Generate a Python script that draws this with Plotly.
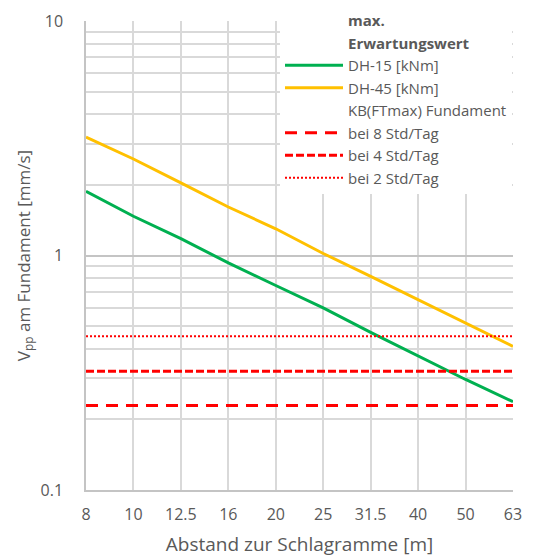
import plotly.graph_objects as go

abstand = ["8", "10", "12.5", "16", "20", "25", "31.5", "40", "50", "63"]
dh15 = [1.88, 1.47, 1.18, 0.93, 0.745, 0.598, 0.47, 0.372, 0.296, 0.238]
dh45 = [3.2, 2.58, 2.04, 1.61, 1.3, 1.02, 0.815, 0.648, 0.515, 0.41]
kb_8std = 0.229
kb_4std = 0.321
kb_2std = 0.453

FONT = "Open Sans"
GREY = "#595959"
GRID = "#d9d9d9"
MAJOR = "#c4c4c4"

W, H = 528, 549  # page body adds an 8px offset
ML, MR, MT, MB = 78, 23, 13, 67
PLOT_H = H - MT - MB

fig = go.Figure()

blank = dict(color="rgba(0,0,0,0)")
fig.add_trace(go.Scatter(x=[None], y=[None], mode="lines", line=blank,
                         name="<b>max.</b>", hoverinfo="skip"))
fig.add_trace(go.Scatter(x=[None], y=[None], mode="lines", line=blank,
                         name="<b>Erwartungswert</b>", hoverinfo="skip"))
fig.add_trace(go.Scatter(x=abstand, y=dh15, mode="lines", name="DH-15 [kNm]",
                         line=dict(color="#00b050", width=3)))
fig.add_trace(go.Scatter(x=abstand, y=dh45, mode="lines", name="DH-45 [kNm]",
                         line=dict(color="#ffc000", width=3)))
fig.add_trace(go.Scatter(x=[None], y=[None], mode="lines", line=blank,
                         name="KB(FTmax) Fundament", hoverinfo="skip"))
fig.add_trace(go.Scatter(x=abstand, y=[kb_8std] * len(abstand), mode="lines", name="bei 8 Std/Tag",
                         line=dict(color="#ff0000", width=3, dash="12px,8px")))
fig.add_trace(go.Scatter(x=abstand, y=[kb_4std] * len(abstand), mode="lines", name="bei 4 Std/Tag",
                         line=dict(color="#ff0000", width=3, dash="8px,3px")))
fig.add_trace(go.Scatter(x=abstand, y=[kb_2std] * len(abstand), mode="lines", name="bei 2 Std/Tag",
                         line=dict(color="#ff0000", width=2, dash="2px,2px")))

minor_vals = [v * m for m in (0.1, 1) for v in range(2, 10)]

fig.update_layout(
    width=W, height=H,
    margin=dict(l=ML, r=MR, t=MT, b=MB, autoexpand=False),
    paper_bgcolor="white", plot_bgcolor="white",
    font=dict(family=FONT, size=16, color=GREY),
    showlegend=True,
    legend=dict(xref="container", yref="paper", x=272 / W, xanchor="left",
                y=1 + 17 / PLOT_H, yanchor="top",
                bgcolor="white", font=dict(family=FONT, size=15, color=GREY),
                itemwidth=58, tracegroupgap=0, traceorder="normal"),
    xaxis=dict(type="category", range=[0, 9], showgrid=True, gridcolor=GRID, gridwidth=1.5,
               showline=True, linecolor=MAJOR, linewidth=1.5, ticks="", ticklabelstandoff=9,
               tickfont=dict(size=16, color=GREY), automargin=False, tickangle=0,
               title=dict(text="Abstand zur Schlagramme [m]", font=dict(size=19, color=GREY), standoff=14)),
    yaxis=dict(type="log", range=[-1, 1], tickvals=[0.1, 1, 10], ticktext=["0.1", "1", "10"],
               showgrid=True, gridcolor=MAJOR, gridwidth=1.5,
               showline=True, linecolor=MAJOR, linewidth=1.5, ticks="", ticklabelstandoff=18,
               tickfont=dict(size=16, color=GREY), automargin=False,
               minor=dict(tickvals=minor_vals, showgrid=True, gridcolor=GRID, gridwidth=1.5),
               title=dict(text="V<sub>pp</sub> am Fundament [mm/s]", font=dict(size=17, color=GREY), standoff=6)),
)

fig.write_html("out.html")
